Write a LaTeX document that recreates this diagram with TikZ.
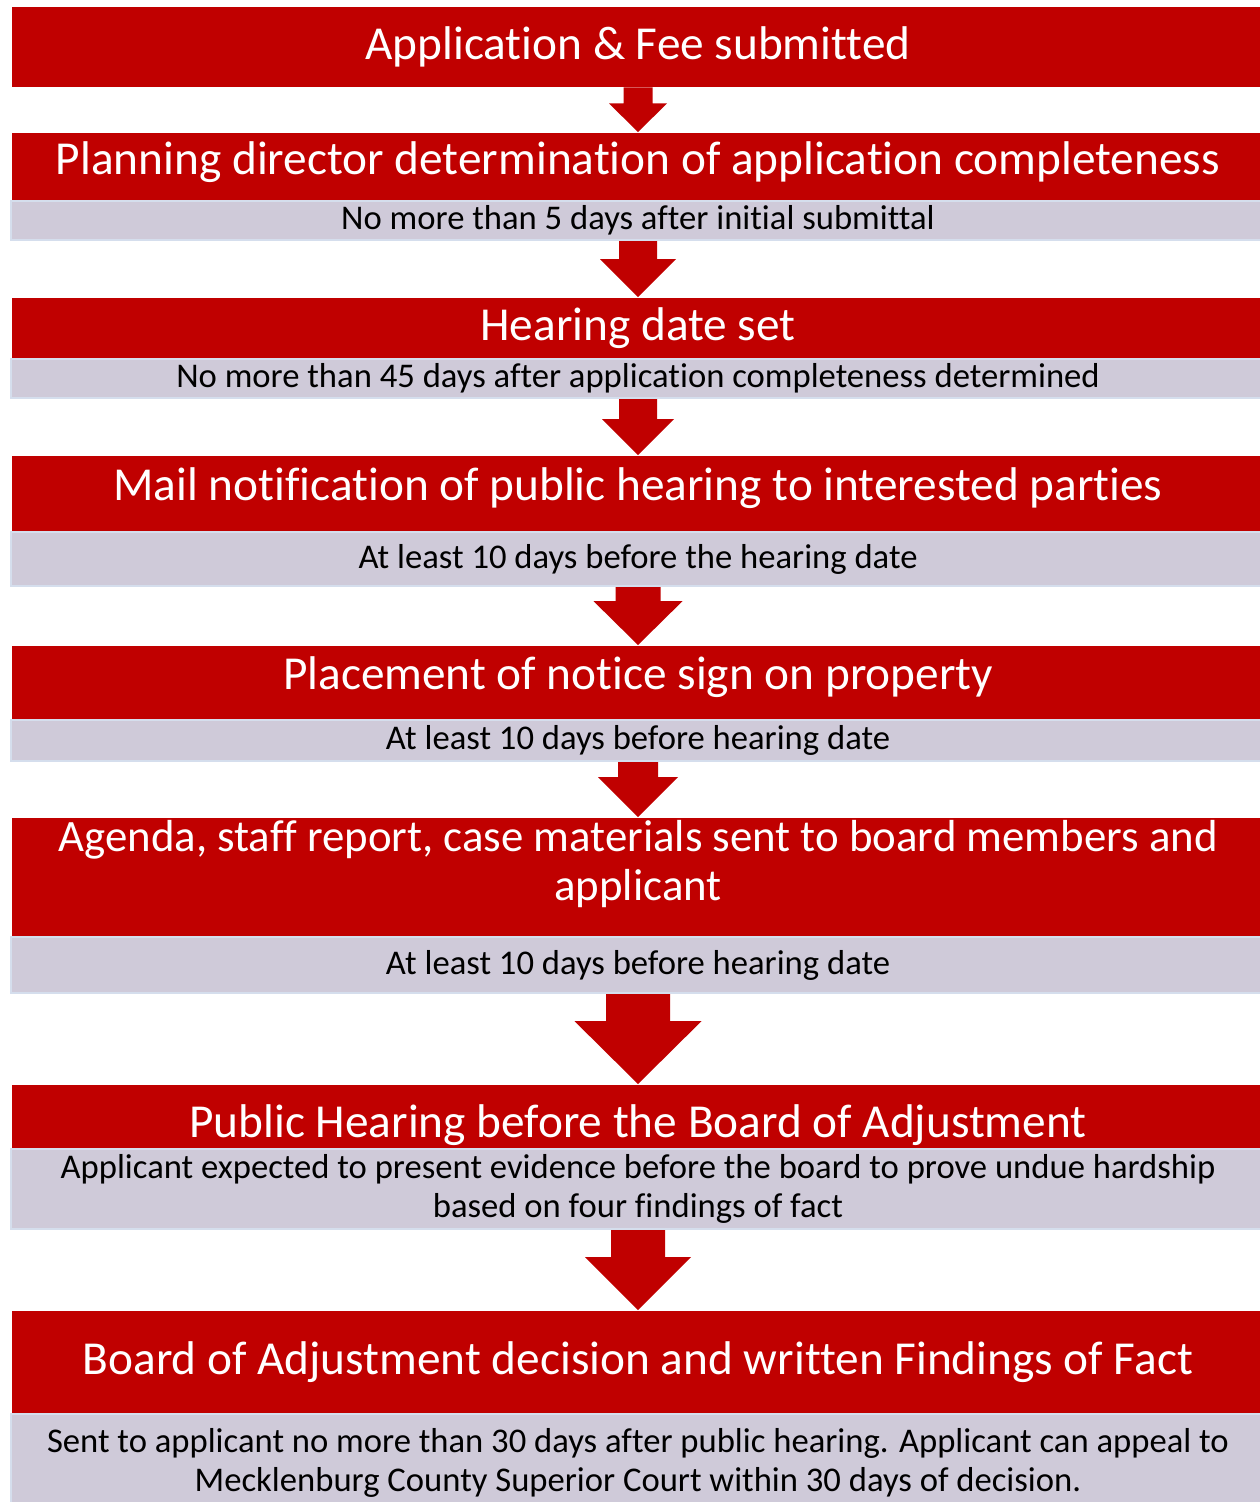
\documentclass[tikz,border=0pt]{standalone}
\usepackage{fontspec}
\setmainfont{Carlito}[Ligatures=CommonOff]
\usepackage{tikz}
\usetikzlibrary{calc}
\definecolor{stepred}{RGB}{192,0,0}
\definecolor{notegrey}{RGB}{207,202,217}
\definecolor{noteedge}{RGB}{213,222,237}
\tikzstyle{redbox}=[anchor=north, fill=stepred, text=white, inner sep=0pt, minimum width=12.52cm, align=center, font=\fontsize{13.45}{13.94}\selectfont]
\tikzstyle{greybox}=[anchor=north, fill=notegrey, draw=noteedge, line width=0.6pt, inner sep=0pt, minimum width=12.54cm, align=center, font=\fontsize{9.85}{11.1}\selectfont]

\begin{document}
\begin{tikzpicture}[x=0.01cm,y=-0.01cm]
\useasboundingbox (0,0) rectangle (1260,1502);
% steps
\node[redbox, minimum height=0.80cm] (r1) at (638,6) {Application \& Fee submitted};
\node[redbox, minimum height=0.68cm, text depth=5pt] (r2) at (638,132) {Planning director determination of application completeness};
\node[greybox, minimum height=0.39cm] (g2) at (638,200) {No more than 5 days after initial submittal};
\node[redbox, minimum height=0.61cm] (r3) at (638,297) {Hearing date set};
\node[greybox, minimum height=0.39cm] (g3) at (638,358) {No more than 45 days after application completeness determined};
\node[redbox, minimum height=0.76cm, text depth=5.6pt] (r4) at (638,455) {Mail notification of public hearing to interested parties};
\node[greybox, minimum height=0.54cm] (g4) at (638,531) {At least 10 days before the hearing date};
\node[redbox, minimum height=0.74cm, text depth=5.6pt] (r5) at (638,645) {Placement of notice sign on property};
\node[greybox, minimum height=0.41cm] (g5) at (638,719) {At least 10 days before hearing date};
\node[redbox, minimum height=1.19cm, text depth=9.8pt, font=\fontsize{12.75}{13.94}\selectfont] (r6) at (638,817) {Agenda, staff report, case materials sent to board members and\\applicant};
\node[greybox, minimum height=0.56cm] (g6) at (638,936) {At least 10 days before hearing date};
\node[redbox, minimum height=0.64cm, text height=15pt, text depth=3pt] (r7) at (638,1084) {Public Hearing before the Board of Adjustment};
\node[greybox, minimum height=0.80cm] (g7) at (638,1148) {Applicant expected to present evidence before the board to prove undue hardship\\based on four findings of fact};
\node[redbox, minimum height=1.03cm] (r8) at (638,1310) {Board of Adjustment decision and written Findings of Fact};
\node[greybox, minimum height=0.98cm] (g8) at (638,1413) {Sent to applicant no more than 30 days after public hearing. Applicant can appeal to\\Mecklenburg County Superior Court within 30 days of decision.};
% block arrows: from/to/shaft/head/shaft length
\foreach \a/\b/\s/\h/\l in {r1/r2/29/58/16, g2/r3/38/76/18, g3/r4/38/72/20, g4/r5/45/89/14, g5/r6/40/80/15, g6/r7/64/127/27, g7/r8/54/106/27} {
	\fill[stepred] ($(\a.south)+(-\s/2,0)$) -- ($(\a.south)+(\s/2,0)$) -- ($(\a.south)+(\s/2,\l)$) -- ($(\a.south)+(\h/2,\l)$) -- (\b.north) -- ($(\a.south)+(-\h/2,\l)$) -- ($(\a.south)+(-\s/2,\l)$) -- cycle;
}
\end{tikzpicture}
\end{document}
